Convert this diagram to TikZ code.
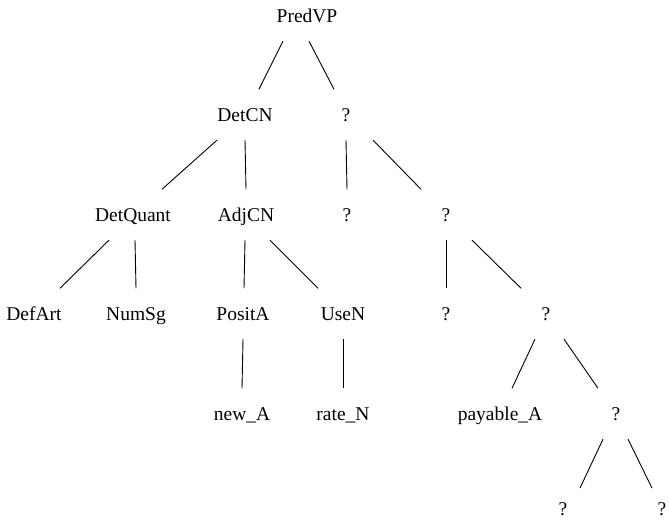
\documentclass[tikz,border=0pt]{standalone}
\usepackage{fontspec}
\setmainfont{Liberation Serif}
\usetikzlibrary{positioning}
\tikzset{tree/.style={x=1pt, y=-1pt, line width=0.9pt},
  lbl/.style={anchor=base, font=\fontsize{19.5}{23}\selectfont, inner sep=0pt,
    text height=14pt, text depth=0pt, minimum height=50pt},
  leaf/.style={lbl, minimum height=0pt}}

\begin{document}
\begin{tikzpicture}[tree]
  \useasboundingbox (0,0) rectangle (669,521);
  \node[lbl] (pred)  at (307,22.7)  {PredVP};
  \node[lbl] (detcn) at (245,121.7) {DetCN};
  \node[lbl] (m1)    at (346,121.7) {?};
  \node[lbl] (detq)  at (133,221.7) {DetQuant};
  \node[lbl] (adjcn) at (246,221.7) {AdjCN};
  \node[lbl] (m2)    at (347,221.7) {?};
  \node[lbl] (m3)    at (446,221.7) {?};
  \node[lbl] (defart) at (34,320.7) {DefArt};
  \node[lbl] (numsg) at (136,320.7) {NumSg};
  \node[lbl] (posit) at (243,320.7) {PositA};
  \node[lbl] (usen)  at (343,320.7) {UseN};
  \node[lbl] (m4)    at (446,320.7) {?};
  \node[lbl] (m5)    at (546,320.7) {?};
  \node[lbl] (newa)  at (242,420.7) {new\_A};
  \node[lbl] (raten) at (343,420.7) {rate\_N};
  \node[lbl] (paya)  at (500,420.7) {payable\_A};
  \node[lbl] (m6)    at (616,420.7) {?};
  \node[leaf] (m7)   at (563,515.5) {?};
  \node[leaf] (m8)   at (662,515.5) {?};
  \draw ([xshift=-24pt]pred.south) -- ([xshift=14pt]detcn.north);
  \draw ([xshift=2pt]pred.south) -- ([xshift=-12pt]m1.north);
  \draw ([xshift=-28pt]detcn.south) -- ([xshift=29pt]detq.north);
  \draw (detcn.south) -- (adjcn.north);
  \draw (m1.south) -- (m2.north);
  \draw ([xshift=27pt]m1.south) -- ([xshift=-25pt]m3.north);
  \draw ([xshift=-24pt]detq.south) -- ([xshift=26pt]defart.north);
  \draw ([xshift=2pt]detq.south) -- (numsg.north);
  \draw ([xshift=-1pt]adjcn.south) -- ([xshift=1pt]posit.north);
  \draw ([xshift=24pt]adjcn.south) -- ([xshift=-25pt]usen.north);
  \draw (m3.south) -- (m4.north);
  \draw ([xshift=26pt]m3.south) -- ([xshift=-25pt]m5.north);
  \draw (posit.south) -- (newa.north);
  \draw (usen.south) -- (raten.north);
  \draw ([xshift=-11pt]m5.south) -- ([xshift=12pt]paya.north);
  \draw ([xshift=18pt]m5.south) -- ([xshift=-18pt]m6.north);
  \draw ([xshift=-13pt]m6.south) -- ([shift={(17pt,13pt)}]m7.north);
  \draw ([xshift=12pt]m6.south) -- ([shift={(-10pt,13pt)}]m8.north);
\end{tikzpicture}
\end{document}
